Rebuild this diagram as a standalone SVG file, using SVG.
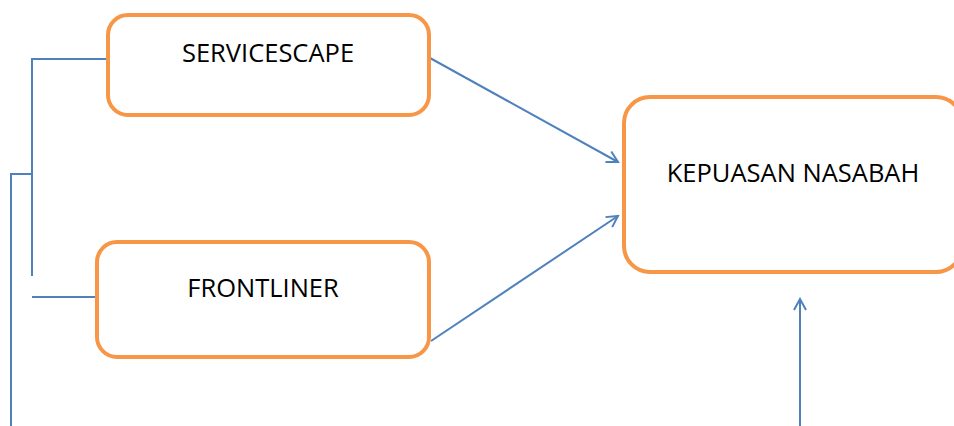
<svg xmlns="http://www.w3.org/2000/svg" width="954" height="426" viewBox="0 0 954 426">
<style>
.box{fill:#fff;stroke:#F79646;stroke-width:4}
.lbl{font-family:"Open Sans","DejaVu Sans",sans-serif;font-size:25.5px;fill:#000;text-anchor:middle}
.ln{fill:none;stroke:#4F81BD;stroke-width:2}
</style>
<defs>
<marker id="ah" markerWidth="14" markerHeight="14" refX="12" refY="7" orient="auto" markerUnits="userSpaceOnUse">
<path d="M1,1 L12,7 L1,13" fill="none" stroke="#4F81BD" stroke-width="2"/>
</marker>
</defs>
<rect width="954" height="426" fill="#fff"/>
<g id="connectors">
<polyline class="ln" points="107,59 32,59 32,276"/>
<line class="ln" x1="32" y1="297" x2="97" y2="297"/>
<polyline class="ln" points="32,174 11,174 11,426"/>
<line class="ln" x1="430" y1="58" x2="618" y2="162" marker-end="url(#ah)"/>
<line class="ln" x1="431" y1="341" x2="618" y2="216" marker-end="url(#ah)"/>
<line class="ln" x1="800" y1="426" x2="800" y2="299" marker-end="url(#ah)"/>
</g>
<g id="servicescape">
<rect class="box" x="108" y="15" width="321" height="100" rx="20"/>
<text class="lbl" x="268" y="62">SERVICESCAPE</text>
</g>
<g id="frontliner">
<rect class="box" x="97" y="242" width="332" height="115" rx="20"/>
<text class="lbl" x="263" y="297">FRONTLINER</text>
</g>
<g id="kepuasan">
<rect class="box" x="624" y="97" width="338" height="175" rx="26"/>
<text class="lbl" x="793" y="182">KEPUASAN NASABAH</text>
</g>
</svg>
